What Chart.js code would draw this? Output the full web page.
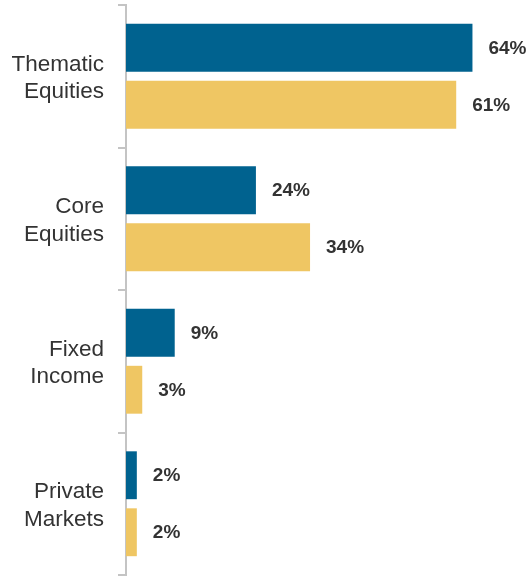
<!DOCTYPE html>
<html>
<head>
<meta charset="utf-8">
<script src="https://cdn.jsdelivr.net/npm/chart.js@4"></script>
<style>
  html, body { margin: 0; padding: 0; background: #fff; }
  #wrap { width: 532px; height: 576px; }
</style>
</head>
<body>
<div id="wrap"><canvas id="chart" width="532" height="576"></canvas></div>
<script>
const categories = [['Thematic', 'Equities'], ['Core', 'Equities'], ['Fixed', 'Income'], ['Private', 'Markets']];
const seriesBlue = [64, 24, 9, 2];
const seriesGold = [61, 34, 3, 2];

// draws "64%" style labels to the right of each bar
const valueLabels = {
    id: 'valueLabels',
    afterDatasetsDraw(chart) {
        const ctx = chart.ctx;
        ctx.save();
        ctx.font = 'bold 19px "Liberation Sans", Arial, sans-serif';
        ctx.fillStyle = '#333333';
        ctx.textBaseline = 'middle';
        chart.data.datasets.forEach((ds, i) => {
            chart.getDatasetMeta(i).data.forEach((bar, j) => {
                ctx.fillText(ds.data[j] + '%', bar.x + 16, bar.y + 1);
            });
        });
        ctx.restore();
    }
};

new Chart(document.getElementById('chart'), {
    type: 'bar',
    data: {
        labels: categories,
        datasets: [
            { data: seriesBlue, backgroundColor: '#00628f', barPercentage: 0.84, categoryPercentage: 0.8 },
            { data: seriesGold, backgroundColor: '#efc663', barPercentage: 0.84, categoryPercentage: 0.8 }
        ]
    },
    options: {
        indexAxis: 'y',
        responsive: false,
        animation: false,
        layout: { padding: { top: 5, bottom: 1, right: 0, left: 0 } },
        plugins: { legend: { display: false }, tooltip: { enabled: false } },
        scales: {
            x: { display: false, min: 0, max: 75 },
            y: {
                afterFit(scale) {
                    scale.width = 126;
                    scale.paddingTop = 0;
                    scale.paddingBottom = 0;
                },
                grid: { drawOnChartArea: false, drawTicks: true, tickLength: 8, offset: true, color: '#c4c4c4', lineWidth: 2 },
                border: { color: '#c4c4c4', width: 2 },
                ticks: {
                    color: '#333333',
                    padding: 14,
                    labelOffset: 2,
                    font: { family: '"Liberation Sans", Arial, sans-serif', size: 22.5, lineHeight: 1.22 }
                }
            }
        }
    },
    plugins: [valueLabels]
});
</script>
</body>
</html>
